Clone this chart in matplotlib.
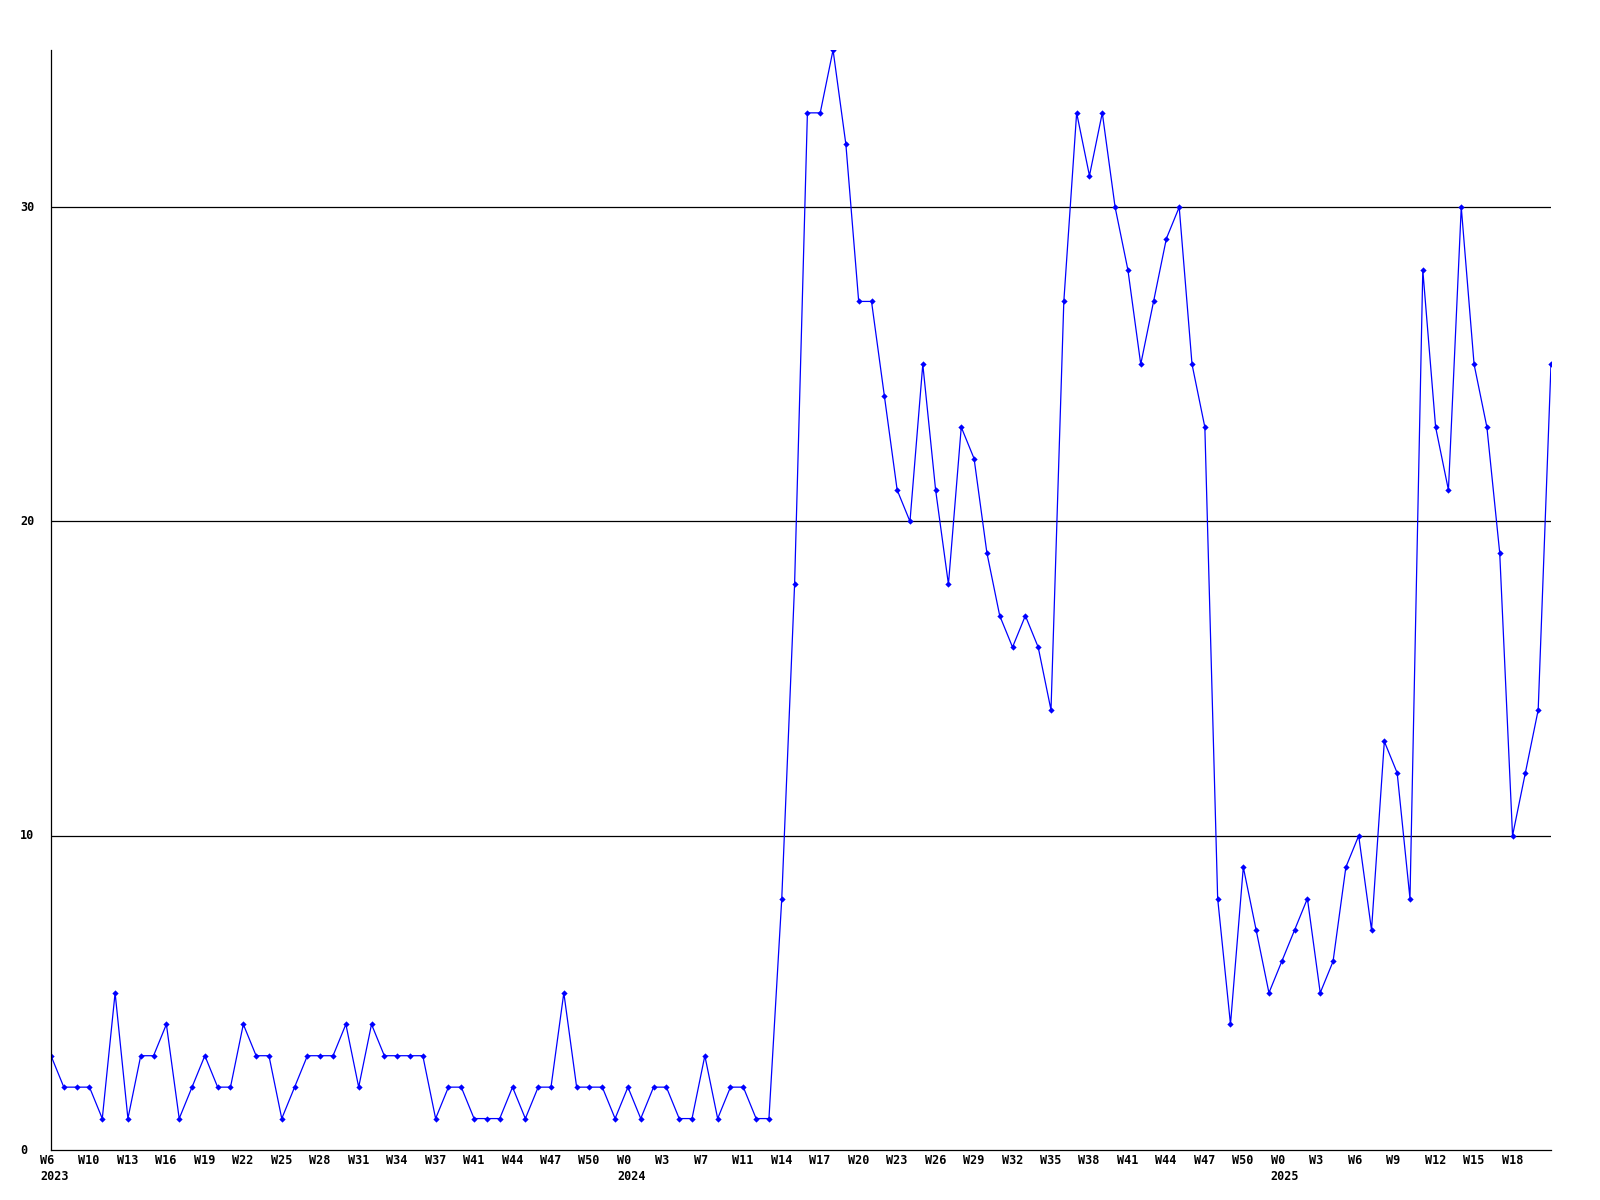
import matplotlib
matplotlib.use('Agg')
import matplotlib.pyplot as plt
from matplotlib.transforms import offset_copy, blended_transform_factory

# weekly counts, W6 2023 .. W21 2025
counts = [3, 2, 2, 2, 1, 5, 1, 3, 3, 4, 1, 2, 3, 2, 2, 4, 3, 3, 1, 2,
          3, 3, 3, 4, 2, 4, 3, 3, 3, 3, 1, 2, 2, 1, 1, 1, 2, 1, 2, 2,
          5, 2, 2, 2, 1, 2, 1, 2, 2, 1, 1, 3, 1, 2, 2, 1, 1, 8, 18, 33,
          33, 35, 32, 27, 27, 24, 21, 20, 25, 21, 18, 23, 22, 19, 17, 16, 17, 16, 14, 27,
          33, 31, 33, 30, 28, 25, 27, 29, 30, 25, 23, 8, 4, 9, 7, 5, 6, 7, 8, 5,
          6, 9, 10, 7, 13, 12, 8, 28, 23, 21, 30, 25, 23, 19, 10, 12, 14, 25]

week_labels = ["W6", "W10", "W13", "W16", "W19", "W22", "W25", "W28", "W31", "W34",
               "W37", "W41", "W44", "W47", "W50", "W0", "W3", "W7", "W11", "W14",
               "W17", "W20", "W23", "W26", "W29", "W32", "W35", "W38", "W41", "W44",
               "W47", "W50", "W0", "W3", "W6", "W9", "W12", "W15", "W18"]
label_step = 3
year_labels = {0: "2023", 45: "2024", 96: "2025"}
y_ticks = [0, 10, 20, 30]

FONT = dict(family='DejaVu Sans Mono', fontweight='bold', fontsize=8.5)

fig = plt.figure(figsize=(16, 12), dpi=100)
ax = fig.add_axes([51/1600, 50/1200, 1500/1600, 1100/1200])

x = list(range(len(counts)))
ax.plot(x, counts, color='#0000ff', linewidth=0.9, marker='D', markersize=3.2,
        markeredgewidth=0)

ax.set_xlim(0, len(counts) - 1)
ax.set_ylim(0, 35)

# horizontal grid lines
for v in y_ticks[1:]:
    ax.axhline(v, color='black', linewidth=0.9, zorder=0)

for s in ['top', 'right']:
    ax.spines[s].set_visible(False)
ax.spines['left'].set_linewidth(0.9)
ax.spines['bottom'].set_linewidth(0.9)
ax.set_xticks([])
ax.set_yticks([])

# y labels, left aligned at a fixed column of the figure
ytr = blended_transform_factory(fig.transFigure, ax.transData)
for v in y_ticks:
    fig.text(20/1600, v, str(v), ha='left', va='center', transform=ytr, **FONT)

# x labels: left aligned, shifted a bit left of the point
lab_tr = offset_copy(ax.transData, fig=fig, x=-11, y=0, units='dots')
for i, lab in enumerate(week_labels):
    ax.text(i * label_step, -0.35, lab, ha='left', va='center',
            transform=lab_tr, clip_on=False, **FONT)
for xi, yr in year_labels.items():
    ax.text(xi, -0.85, yr, ha='left', va='center', transform=lab_tr,
            clip_on=False, **FONT)

fig.savefig('out.png', dpi=100, facecolor='white')
